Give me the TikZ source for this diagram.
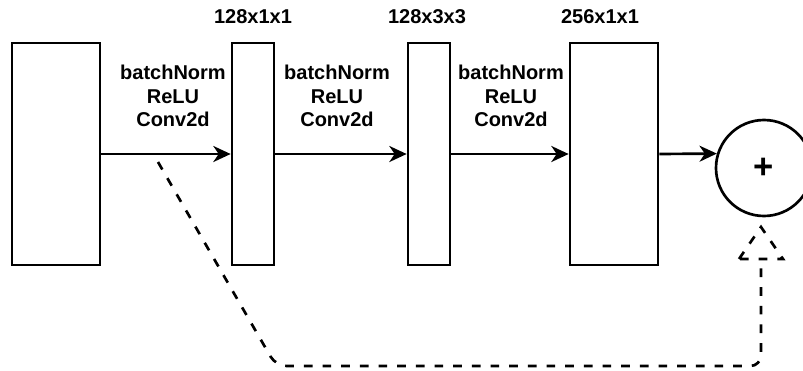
\documentclass[tikz,border=0pt]{standalone}
\usepackage{fontspec}
\setmainfont{Liberation Sans}
\usetikzlibrary{arrows.meta}

\tikzset{
  blk/.style={draw, line width=2pt, rectangle, minimum height=166.5pt, inner sep=0pt},
  lbl/.style={font=\bfseries\fontsize{15}{17.6}\selectfont, align=center, inner sep=0.75pt},
  flow/.style={line width=2pt, -{Stealth[length=13pt, width=12pt, inset=4pt]}},
  skip/.style={line width=2pt, dash pattern=on 6.5pt off 7.5pt, rounded corners=8pt}
}

\begin{document}
\begin{tikzpicture}[x=0.75pt,y=0.75pt,yscale=-1,xscale=1]
\useasboundingbox (0,0) rectangle (803,371);

%Blocks
\node [blk, minimum width=66pt] (in0) at (56,154) {};
\node [blk, minimum width=31.5pt] (conv1) at (253,154) {};
\node [blk, minimum width=31.5pt] (conv2) at (429,154) {};
\node [blk, minimum width=66pt] (conv3) at (614,154) {};
%Sum
\node [draw, circle, line width=2pt, minimum size=72pt, inner sep=0pt, font=\bfseries\fontsize{26}{26}\selectfont] (sum) at (764,168) {+};

% Text Node
\node [lbl] (sz1) at (253,17) {128x1x1};
% Text Node
\node [lbl] (sz2) at (427,17) {128x3x3};
% Text Node
\node [lbl] (sz3) at (600,17) {256x1x1};
% Text Node
\node [lbl] (op1) at (173,96) {batchNorm\\ReLU\\Conv2d};
% Text Node
\node [lbl] (op2) at (337,96) {batchNorm\\ReLU\\Conv2d};
% Text Node
\node [lbl] (op3) at (511,96) {batchNorm\\ReLU\\Conv2d};

%Arrows
\draw [flow] (in0.east) -- (conv1.west);
\draw [flow] (conv1.east) -- (conv2.west);
\draw [flow] (conv2.east) -- (conv3.west);
\draw [flow] (conv3.east) -- (sum.163);

%Shortcut
\coordinate (skipStart) at (158,162);
\coordinate (skipEnd) at (761,259);
\draw [skip] (skipStart) -- (276,366) -- (761,366) -- (skipEnd);
\draw [skip, rounded corners=0pt] (skipEnd) ++(-22,0) -- ++(22,-32) -- ++(22,32) -- cycle;

\end{tikzpicture}
\end{document}
